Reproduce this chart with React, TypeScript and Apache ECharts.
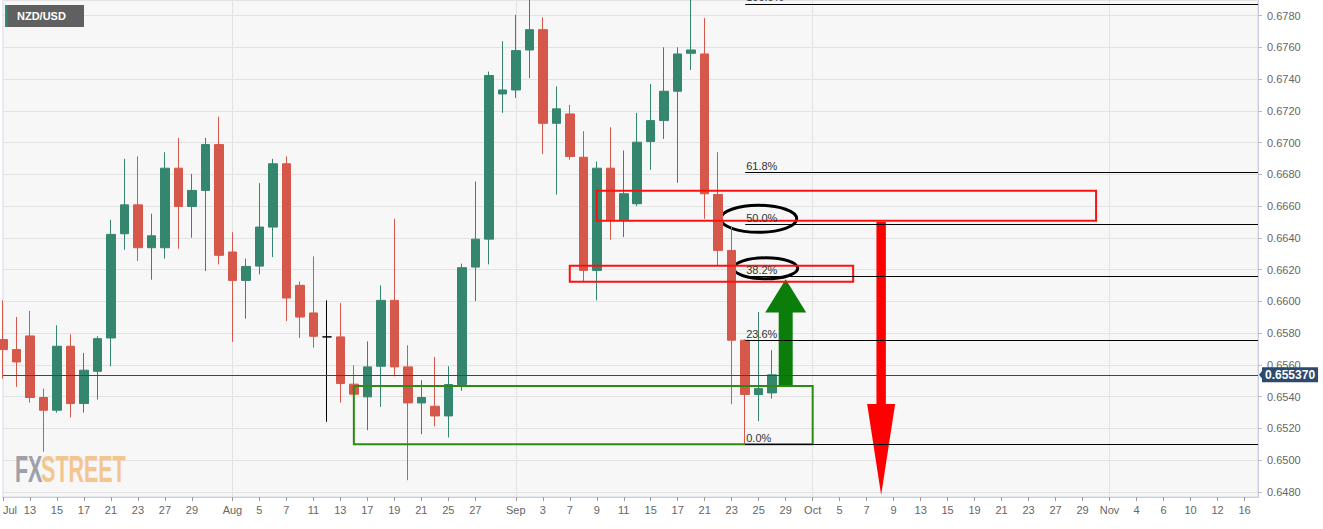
import React, { useEffect, useRef } from 'react';
import * as echarts from 'echarts';

// Trading days (x categories)
const dates: string[] = [
  '2020-07-09','2020-07-10','2020-07-13','2020-07-14','2020-07-15','2020-07-16','2020-07-17','2020-07-20','2020-07-21','2020-07-22','2020-07-23','2020-07-24','2020-07-27','2020-07-28','2020-07-29','2020-07-30','2020-07-31',
  '2020-08-03','2020-08-04','2020-08-05','2020-08-06','2020-08-07','2020-08-10','2020-08-11','2020-08-12','2020-08-13','2020-08-14','2020-08-17','2020-08-18','2020-08-19','2020-08-20','2020-08-21','2020-08-24','2020-08-25','2020-08-26','2020-08-27','2020-08-28','2020-08-31',
  '2020-09-01','2020-09-02','2020-09-03','2020-09-04','2020-09-07','2020-09-08','2020-09-09','2020-09-10','2020-09-11','2020-09-14','2020-09-15','2020-09-16','2020-09-17','2020-09-18','2020-09-21','2020-09-22','2020-09-23','2020-09-24','2020-09-25','2020-09-28','2020-09-29','2020-09-30',
  '2020-10-01','2020-10-02','2020-10-05','2020-10-06','2020-10-07','2020-10-08','2020-10-09','2020-10-12','2020-10-13','2020-10-14','2020-10-15','2020-10-16','2020-10-19','2020-10-20','2020-10-21','2020-10-22','2020-10-23','2020-10-26','2020-10-27','2020-10-28','2020-10-29','2020-10-30',
  '2020-11-02','2020-11-03','2020-11-04','2020-11-05','2020-11-06','2020-11-09','2020-11-10','2020-11-11','2020-11-12','2020-11-13','2020-11-16','2020-11-17',
];

// Tick labels on the time axis
const xTickLabels: Record<string, string> = {
  '2020-07-09': 'Jul', '2020-07-13': '13', '2020-07-15': '15', '2020-07-17': '17', '2020-07-21': '21', '2020-07-23': '23', '2020-07-27': '27', '2020-07-29': '29',
  '2020-08-03': 'Aug', '2020-08-05': '5', '2020-08-07': '7', '2020-08-11': '11', '2020-08-13': '13', '2020-08-17': '17', '2020-08-19': '19', '2020-08-21': '21', '2020-08-25': '25', '2020-08-27': '27',
  '2020-09-01': 'Sep', '2020-09-03': '3', '2020-09-07': '7', '2020-09-09': '9', '2020-09-11': '11', '2020-09-15': '15', '2020-09-17': '17', '2020-09-21': '21', '2020-09-23': '23', '2020-09-25': '25', '2020-09-29': '29',
  '2020-10-01': 'Oct', '2020-10-05': '5', '2020-10-07': '7', '2020-10-09': '9', '2020-10-13': '13', '2020-10-15': '15', '2020-10-19': '19', '2020-10-21': '21', '2020-10-23': '23', '2020-10-27': '27', '2020-10-29': '29',
  '2020-11-02': 'Nov', '2020-11-04': '4', '2020-11-06': '6', '2020-11-10': '10', '2020-11-12': '12', '2020-11-16': '16',
};
const monthStarts: string[] = ['2020-08-03', '2020-09-01', '2020-10-01', '2020-11-02'];

// OHLC (one entry per trading day from 2020-07-09)
const opens: number[] = [
  0.65759, 0.65696, 0.65782, 0.65394, 0.65314, 0.65717, 0.65356, 0.65559, 0.65769, 0.66426,
  0.66608, 0.66338, 0.66338, 0.66839, 0.66598, 0.66699, 0.66988, 0.66311, 0.66132, 0.66222,
  0.66468, 0.66867, 0.66101, 0.65927, 0.65776, 0.65776, 0.65478, 0.65398, 0.65591, 0.66006,
  0.65587, 0.65360, 0.65339, 0.65278, 0.65476, 0.66216, 0.66392, 0.67307, 0.67332, 0.67584,
  0.67712, 0.67122, 0.67181, 0.66908, 0.66195, 0.66839, 0.66514, 0.66615, 0.67007, 0.67139,
  0.67324, 0.67563, 0.67559, 0.66673, 0.66321, 0.65755, 0.65413, 0.65423,
];
const closes: number[] = [
  0.65696, 0.65618, 0.65394, 0.65314, 0.65717, 0.65356, 0.65566, 0.65765, 0.66422, 0.66608,
  0.66338, 0.66413, 0.66839, 0.66598, 0.66699, 0.66988, 0.66290, 0.66132, 0.66220, 0.66468,
  0.66867, 0.66021, 0.65901, 0.65780, 0.65776, 0.65482, 0.65415, 0.65587, 0.66006, 0.65587,
  0.65360, 0.65394, 0.65278, 0.65476, 0.66212, 0.66392, 0.67423, 0.67332, 0.67580, 0.67712,
  0.67122, 0.67213, 0.66913, 0.66195, 0.66839, 0.66514, 0.66678, 0.67003, 0.67139, 0.67324,
  0.67559, 0.67584, 0.66678, 0.66321, 0.65755, 0.65413, 0.65450, 0.65537,
];
const lows: number[] = [
  0.65513, 0.65461, 0.65362, 0.65052, 0.65299, 0.65268, 0.65299, 0.65381, 0.65591, 0.66325,
  0.66254, 0.66136, 0.66269, 0.66332, 0.66401, 0.66191, 0.66233, 0.65744, 0.65891, 0.66170,
  0.66279, 0.65876, 0.65769, 0.65708, 0.65241, 0.65362, 0.65412, 0.65188, 0.65335, 0.65528,
  0.64873, 0.65163, 0.65213, 0.65142, 0.65436, 0.66002, 0.66233, 0.67188, 0.67282, 0.67406,
  0.66929, 0.66673, 0.66892, 0.66128, 0.66006, 0.66388, 0.66405, 0.66600, 0.66829, 0.67024,
  0.66747, 0.67458, 0.66520, 0.66227, 0.65352, 0.65100, 0.65245, 0.65387,
];
const highs: number[] = [
  0.66006, 0.65901, 0.65939, 0.65450, 0.65849, 0.65792, 0.65675, 0.65780, 0.66514, 0.66898,
  0.66913, 0.66552, 0.66940, 0.67030, 0.66804, 0.67030, 0.67164, 0.66436, 0.66269, 0.66745,
  0.66898, 0.66913, 0.66126, 0.66283, 0.66006, 0.65990, 0.65597, 0.65748, 0.66101, 0.66520,
  0.65723, 0.65503, 0.65650, 0.65591, 0.66237, 0.66755, 0.67448, 0.67639, 0.67806, 0.67950,
  0.67790, 0.67355, 0.67238, 0.67072, 0.66881, 0.67097, 0.66950, 0.67188, 0.67370, 0.67601,
  0.67601, 0.67920, 0.67785, 0.66940, 0.66472, 0.65760, 0.65933, 0.65692,
];

const lastPrice = 0.65537;

// Fibonacci retracement
const fibLevels: number[] = [0, 0.236, 0.382, 0.5, 0.618, 1];
const fibLow = 0.6510;
const fibHigh = 0.67874;
const fibStart = '2020-09-24';
const fibEnd = '2020-11-17';

// Zones (boxes): [fromDate, toDate, lowValue, highValue]
const supportZone: [string, string, number, number] = ['2020-08-14', '2020-10-01', 0.6510, 0.65466];
const resistanceZones: [string, string, number, number][] = [
  ['2020-09-07', '2020-10-06', 0.66123, 0.66224],
  ['2020-09-09', '2020-10-30', 0.66508, 0.66697],
];

const FONT = "'Liberation Sans', Arial, Helvetica, sans-serif";

export default function App() {
  const ref = useRef<HTMLDivElement>(null);

  useEffect(() => {
    if (!ref.current) return;
    const chart = echarts.init(ref.current, null, { renderer: 'svg' });

    const candles = opens.map((o, i) => [o, closes[i], lows[i], highs[i]]);
    const fibValue = (l: number) => fibLow + (fibHigh - fibLow) * l;

    const fibLines = fibLevels.map((l) => [
      {
        coord: [fibStart, fibValue(l)],
        label: { formatter: (l * 100).toFixed(1) + '%' },
      },
      { coord: [fibEnd, fibValue(l)] },
    ]);

    const priceLine = [
      {
        coord: [dates[0], lastPrice],
        lineStyle: { color: '#2d4a6d', width: 1, type: 'solid' },
        label: {
          position: 'end',
          formatter: lastPrice.toFixed(6),
          color: '#fff',
          fontWeight: 'bold',
          fontSize: 12,
          backgroundColor: '#2d4a6d',
          padding: [2, 3, 1, 3],
          distance: 4,
        },
      },
      { coord: [dates[dates.length - 1], lastPrice] },
    ];

    const boxStyle = (color: string) => ({
      color: 'rgba(0,0,0,0)',
      borderColor: color,
      borderWidth: 2,
    });

    const zones: any[] = [
      [
        { coord: [supportZone[0], supportZone[3]], itemStyle: boxStyle('#2e8a12') },
        { coord: [supportZone[1], supportZone[2]] },
      ],
      ...resistanceZones.map((z) => [
        { coord: [z[0], z[3]], itemStyle: boxStyle('#ff1010') },
        { coord: [z[1], z[2]] },
      ]),
    ];

    const isTick = (_i: number, v: string) => !!xTickLabels[v];

    chart.setOption({
      animation: false,
      backgroundColor: '#ffffff',
      textStyle: { fontFamily: FONT },
      grid: {
        left: 0,
        right: 65,
        top: 0,
        bottom: 32,
        show: true,
        backgroundColor: '#f7f7f7',
        borderColor: '#d4d8e6',
        borderWidth: 1,
      },
      xAxis: {
        type: 'category',
        data: dates,
        boundaryGap: false,
        axisLine: { lineStyle: { color: '#c9cee0' } },
        axisTick: { show: true, interval: isTick, length: 4, lineStyle: { color: '#9a9a9a' } },
        axisLabel: {
          interval: isTick,
          formatter: (v: string) => xTickLabels[v] || '',
          color: '#666',
          fontSize: 11,
          margin: 7,
          alignMinLabel: 'left',
        },
        splitLine: {
          show: true,
          interval: (_i: number, v: string) => monthStarts.includes(v),
          lineStyle: { color: '#e3e3e3', width: 1 },
        },
      },
      yAxis: {
        type: 'value',
        position: 'right',
        min: 0.64767,
        max: 0.67899,
        splitNumber: 15,
        minInterval: 0.002,
        maxInterval: 0.002,
        axisLine: { show: true, lineStyle: { color: '#c9cee0' } },
        axisTick: { show: true, length: 4, lineStyle: { color: '#b8bccc' } },
        axisLabel: {
          color: '#666',
          fontSize: 11,
          margin: 9,
          showMinLabel: false,
          showMaxLabel: false,
          formatter: (v: number) => v.toFixed(4),
        },
        splitLine: { show: true, lineStyle: { color: '#e3e3e3', width: 1 } },
      },
      series: [
        {
          type: 'candlestick',
          data: candles,
          barWidth: 9,
          itemStyle: {
            color: '#35866f',
            color0: '#d5584a',
            borderColor: '#35866f',
            borderColor0: '#d5584a',
            borderColorDoji: '#000000',
            borderWidth: 1,
          },
          markArea: {
            silent: true,
            z: 5,
            data: zones,
          },
          markLine: {
            silent: true,
            z: 6,
            symbol: ['none', 'none'],
            lineStyle: { color: '#000', width: 1, type: 'solid' },
            label: {
              position: 'insideStartTop',
              color: '#333',
              fontSize: 11,
              distance: 1,
            },
            data: [...fibLines, priceLine],
          },
        },
      ],
    });

    const p = (d: string, v: number) => chart.convertToPixel({ gridIndex: 0 }, [d, v]) as number[];

    // Green up arrow
    const gBase = p('2020-09-29', 0.65466);
    const gNeck = p('2020-09-29', 0.6593);
    const gTip = p('2020-09-29', 0.6614);
    const gx = gBase[0];
    // Red down arrow
    const rTop = p('2020-10-08', 0.6650);
    const rNeck = p('2020-10-08', 0.65353);
    const rTip = p('2020-10-08', 0.6478);
    const rx = rTop[0] + 1;
    // Ellipses
    const e50 = p('2020-09-25', 0.6652);
    const e38 = p('2020-09-25', 0.66208);
    // Price pointer
    const pp = p(fibEnd, lastPrice);

    chart.setOption({
      graphic: [
        {
          type: 'group',
          left: 5,
          top: 5,
          children: [
            { type: 'rect', shape: { x: 0, y: 0, width: 79, height: 22 }, style: { fill: '#606060' } },
            { type: 'rect', shape: { x: 0, y: 0, width: 2.5, height: 22 }, style: { fill: '#2f8a6e' } },
            {
              type: 'text',
              x: 12,
              y: 11,
              style: { text: 'NZD/USD', fill: '#ffffff', font: `bold 11px ${FONT}`, verticalAlign: 'middle' },
            },
          ],
        },
        {
          type: 'group',
          x: 15,
          y: 451,
          scaleX: 0.58,
          z: 1,
          children: [
            {
              type: 'text',
              x: 0,
              y: 0,
              style: { text: 'FX', fill: '#9ea0aa', font: `bold 37px ${FONT}`, verticalAlign: 'top' },
            },
            {
              type: 'text',
              x: 45,
              y: 0,
              style: { text: 'STREET', fill: '#f3c58f', font: `bold 37px ${FONT}`, verticalAlign: 'top' },
            },
          ],
        },
        {
          type: 'polygon',
          shape: {
            points: [
              [gx - 7, gBase[1]], [gx - 7, gNeck[1]], [gx - 20.5, gNeck[1]], [gx, gTip[1]],
              [gx + 20.5, gNeck[1]], [gx + 7, gNeck[1]], [gx + 7, gBase[1]],
            ],
          },
          style: { fill: '#0b7d0b' },
        },
        {
          type: 'polygon',
          shape: {
            points: [
              [rx - 4.7, rTop[1]], [rx + 4.7, rTop[1]], [rx + 4.7, rNeck[1]], [rx + 14, rNeck[1]],
              [rx, rTip[1]], [rx - 14, rNeck[1]], [rx - 4.7, rNeck[1]],
            ],
          },
          style: { fill: '#ff0000' },
        },
        {
          type: 'ellipse',
          shape: { cx: e50[0], cy: e50[1], rx: 38, ry: 13.5 },
          style: { fill: 'none', stroke: '#000', lineWidth: 3 },
        },
        {
          type: 'ellipse',
          shape: { cx: e38[0] + 7, cy: e38[1], rx: 32, ry: 10.5 },
          style: { fill: 'none', stroke: '#000', lineWidth: 3 },
        },
        {
          type: 'polygon',
          shape: { points: [[pp[0] + 1, pp[1]], [pp[0] + 5, pp[1] - 5], [pp[0] + 5, pp[1] + 5]] },
          style: { fill: '#2d4a6d' },
        },
      ],
    });

    return () => chart.dispose();
  }, []);

  return <div ref={ref} style={{ position: 'fixed', left: 0, top: 0, width: 1323, height: 529 }} />;
}
